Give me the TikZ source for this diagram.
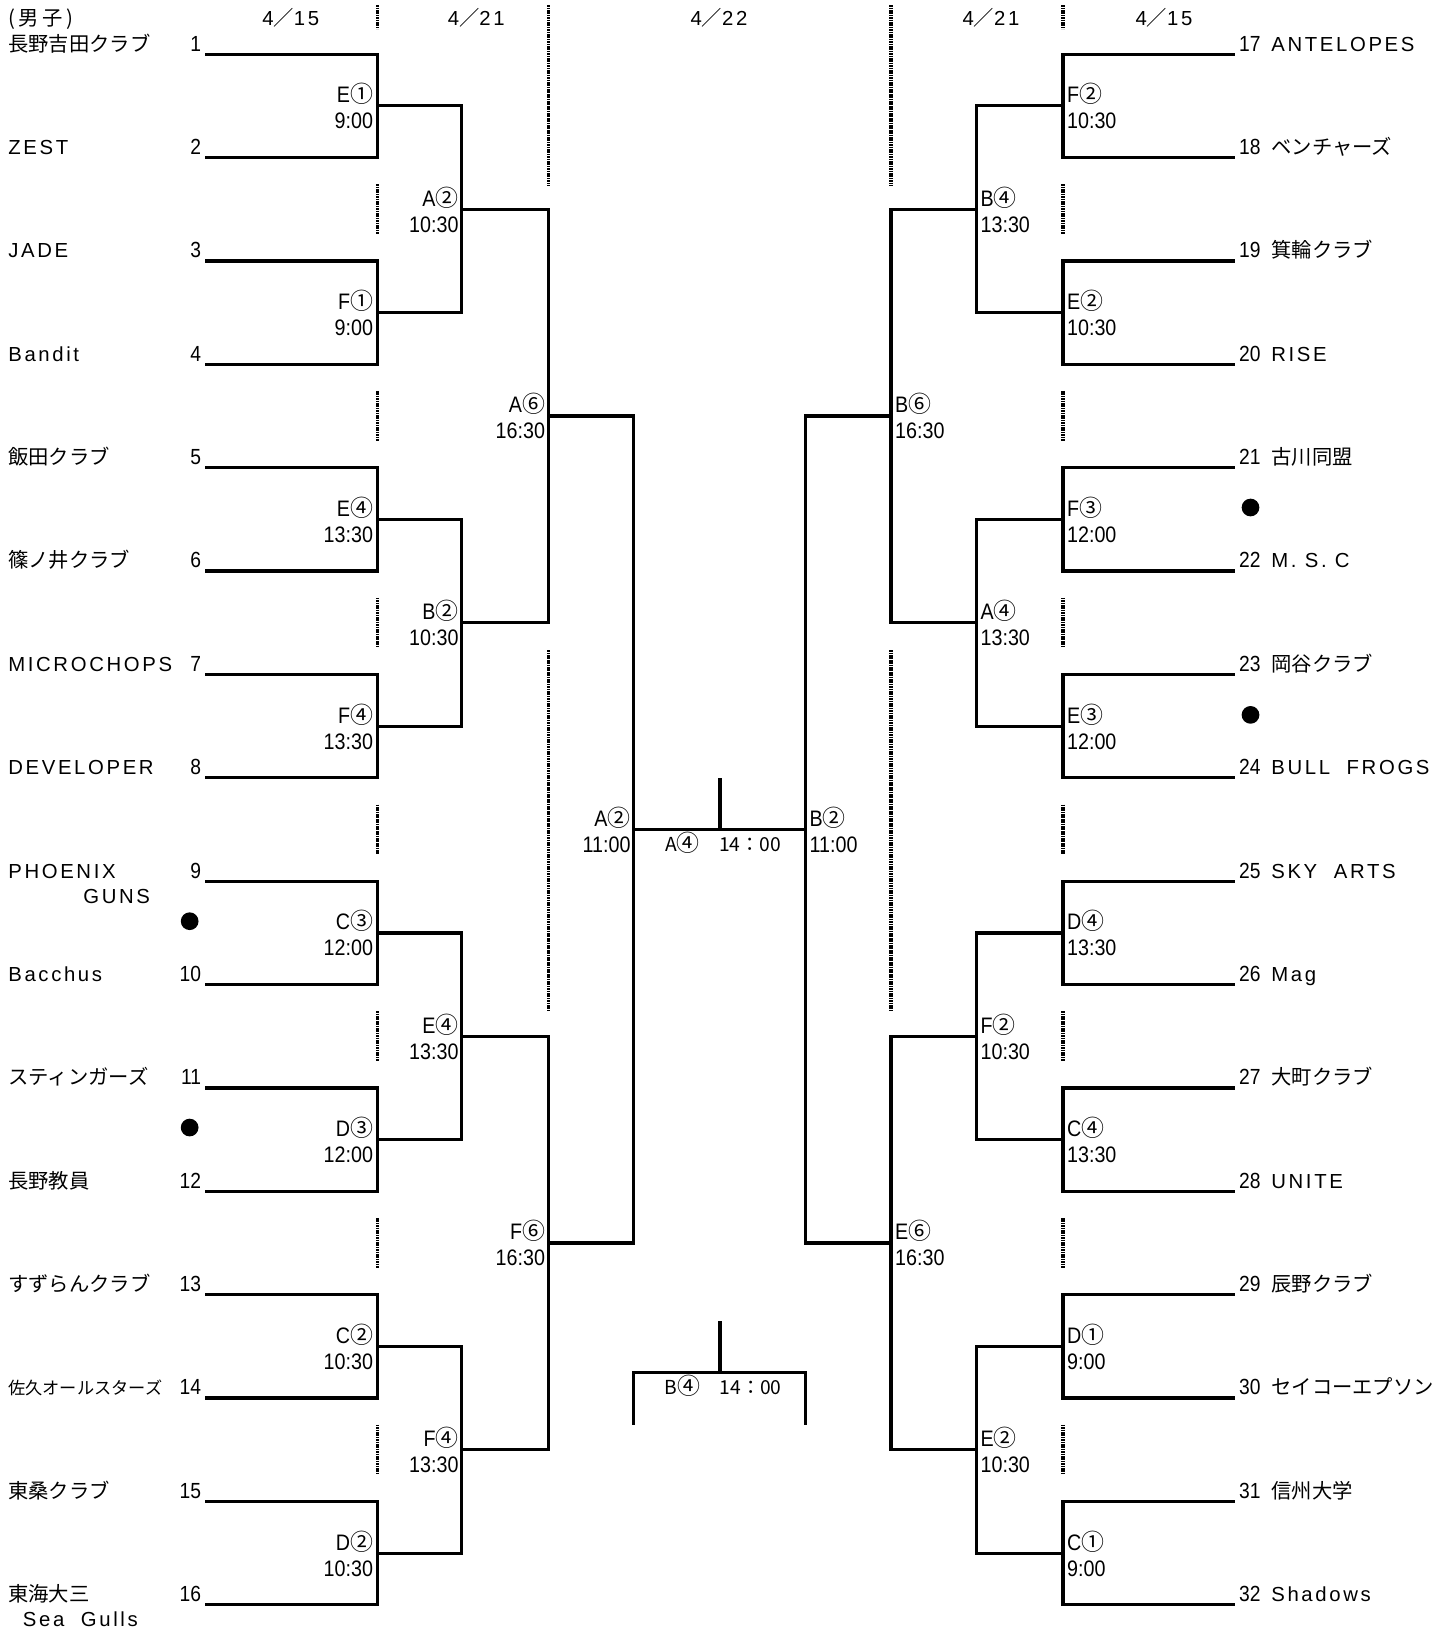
\documentclass[tikz,border=0pt]{standalone}
\usepackage{fontspec}
\setmainfont{Liberation Sans}
\newfontfamily\jp{Noto Sans CJK JP}
\newfontfamily\wl[LetterSpace=13]{Liberation Sans}
\newfontfamily\nar[FakeStretch=0.88]{Liberation Sans}
\newfontfamily\jpw[LetterSpace=17]{Noto Sans CJK JP}
\newcommand\cdig[1]{{\fontsize{22}{22}\selectfont\jp #1}}
\newcommand\slsh{{\jp ／}}
\begin{document}
\begin{tikzpicture}[x=1pt,y=-1pt,
  every node/.style={inner sep=0pt,outer sep=0pt},
  br/.style={line width=3.1pt,line join=miter},
  sep/.style={line width=3pt,dash pattern=on 1.6pt off 0.7pt},
  tnm/.style={font=\fontsize{19.5}{23}\selectfont\wl},
  tnum/.style={font=\fontsize{21}{23}\selectfont\nar},
  mlab/.style={font=\fontsize{21.5}{23}\selectfont\nar},
  hdr/.style={font=\fontsize{19.5}{23}\selectfont\wl},
  flab/.style={font=\fontsize{18.5}{22}\selectfont\jp,anchor=base},
  dot/.style={circle,fill=black,minimum size=17pt}]
\useasboundingbox (0,0) rectangle (1396,1568);
% ---------- coordinates ----------
\foreach \i in {1,...,16}{
  \pgfmathsetmacro\yy{52+(\i-1)*99.2}
  \coordinate (lt\i) at (197,\yy);
  \coordinate (rt\i) at (1185,\yy);
}
\foreach \m in {1,...,8}{
  \pgfmathsetmacro\yy{52+(2*\m-1.5)*99.2}
  \coordinate (la\m) at (362,\yy);
  \coordinate (ra\m) at (1020,\yy);
}
\foreach \k in {1,...,4}{
  \pgfmathsetmacro\yy{52+(4*\k-2.5)*99.2}
  \coordinate (lb\k) at (443,\yy);
  \coordinate (rb\k) at (937,\yy);
}
\foreach \j in {1,2}{
  \pgfmathsetmacro\yy{52+(8*\j-4.5)*99.2}
  \coordinate (lc\j) at (526,\yy);
  \coordinate (rc\j) at (855,\yy);
}
\coordinate (ld) at (608,796);
\coordinate (rd) at (773,796);
\coordinate (fm) at (691,796);
\coordinate (ft) at (691,747);
\coordinate (tl) at (608,1367);
\coordinate (tr) at (773,1367);
\coordinate (tm) at (691,1317);
\coordinate (tt) at (691,1268);
% ---------- separators ----------
\foreach \x in {362,1020}{
  \draw[sep] (\x,5) -- (\x,28);
  \foreach \g in {1,...,7}{
    \pgfmathsetmacro\yy{52+(2*\g-0.5)*99.2}
    \draw[sep] (\x,\yy-24) -- (\x,\yy+24);
  }
}
\foreach \x in {526,855}{
  \draw[sep] (\x,5) -- (\x,178);
  \draw[sep] (\x,624) -- (\x,971);
}
% ---------- bracket ----------
\foreach \m in {1,...,8}{
  \pgfmathtruncatemacro\a{2*\m-1}\pgfmathtruncatemacro\b{2*\m}
  \draw[br] (lt\a) -| (la\m) |- (lt\b);
  \draw[br] (rt\a) -| (ra\m) |- (rt\b);
}
\foreach \k in {1,...,4}{
  \pgfmathtruncatemacro\a{2*\k-1}\pgfmathtruncatemacro\b{2*\k}
  \draw[br] (la\a) -| (lb\k) |- (la\b);
  \draw[br] (ra\a) -| (rb\k) |- (ra\b);
}
\foreach \j in {1,2}{
  \pgfmathtruncatemacro\a{2*\j-1}\pgfmathtruncatemacro\b{2*\j}
  \draw[br] (lb\a) -| (lc\j) |- (lb\b);
  \draw[br] (rb\a) -| (rc\j) |- (rb\b);
}
\draw[br] (lc1) -| (ld) |- (lc2);
\draw[br] (rc1) -| (rd) |- (rc2);
\draw[br] (ld) -- (rd);
\draw[br] (ft) -- (fm);
\draw[br] (tl) |- (tm) -| (tr);
\draw[br] (tt) -- (tm);
% ---------- headers ----------
\node[hdr,anchor=base west,font=\fontsize{19.5}{23}\selectfont\jpw] (sex) at (8,24) {(男子)};
\node[hdr,anchor=base] (h1) at (279,24) {4\slsh 15};
\node[hdr,anchor=base] (h2) at (457,24) {4\slsh 21};
\node[hdr,anchor=base] (h3) at (690,24) {4\slsh 22};
\node[hdr,anchor=base] (h4) at (951,24) {4\slsh 21};
\node[hdr,anchor=base] (h5) at (1117,24) {4\slsh 15};
% ---------- match labels ----------
\foreach \m/\mL/\mC/\mT in {1/E/①/9:00,2/F/①/9:00,3/E/④/13:30,4/F/④/13:30,5/C/③/12:00,6/D/③/12:00,7/C/②/10:30,8/D/②/10:30}{
  \node[mlab,anchor=base east] (lam\m) at ([shift={(-4,-3)}]la\m) {\mL\cdig{\mC}};
  \node[mlab,anchor=base east] (lat\m) at ([shift={(-4,22)}]la\m) {\mT};
}
\foreach \m/\mL/\mC/\mT in {1/F/②/10:30,2/E/②/10:30,3/F/③/12:00,4/E/③/12:00,5/D/④/13:30,6/C/④/13:30,7/D/①/9:00,8/C/①/9:00}{
  \node[mlab,anchor=base west] (ram\m) at ([shift={(4,-3)}]ra\m) {\mL\cdig{\mC}};
  \node[mlab,anchor=base west] (rat\m) at ([shift={(4,22)}]ra\m) {\mT};
}
\foreach \m/\mL/\mC/\mT in {1/A/②/10:30,2/B/②/10:30,3/E/④/13:30,4/F/④/13:30}{
  \node[mlab,anchor=base east] (lbm\m) at ([shift={(-3,-3)}]lb\m) {\mL\cdig{\mC}};
  \node[mlab,anchor=base east] (lbt\m) at ([shift={(-3,22)}]lb\m) {\mT};
}
\foreach \m/\mL/\mC/\mT in {1/B/④/13:30,2/A/④/13:30,3/F/②/10:30,4/E/②/10:30}{
  \node[mlab,anchor=base west] (rbm\m) at ([shift={(4,-3)}]rb\m) {\mL\cdig{\mC}};
  \node[mlab,anchor=base west] (rbt\m) at ([shift={(4,22)}]rb\m) {\mT};
}
\foreach \m/\mL/\mC/\mT in {1/A/⑥/16:30,2/F/⑥/16:30}{
  \node[mlab,anchor=base east] (lcm\m) at ([shift={(-3,-3)}]lc\m) {\mL\cdig{\mC}};
  \node[mlab,anchor=base east] (lct\m) at ([shift={(-3,22)}]lc\m) {\mT};
}
\foreach \m/\mL/\mC/\mT in {1/B/⑥/16:30,2/E/⑥/16:30}{
  \node[mlab,anchor=base west] (rcm\m) at ([shift={(4,-3)}]rc\m) {\mL\cdig{\mC}};
  \node[mlab,anchor=base west] (rct\m) at ([shift={(4,22)}]rc\m) {\mT};
}
\node[mlab,anchor=base east] (ldm) at ([shift={(-3,-3)}]ld) {A\cdig{②}};
\node[mlab,anchor=base east] (ldt) at ([shift={(-3,22)}]ld) {11:00};
\node[mlab,anchor=base west] (rdm) at ([shift={(4,-3)}]rd) {B\cdig{②}};
\node[mlab,anchor=base west] (rdt) at ([shift={(4,22)}]rd) {11:00};
\node[flab] (fin) at (694,817) {A\cdig{④}　14：00};
\node[flab] (third) at (694,1338) {B\cdig{④}　14：00};
% ---------- teams ----------
\foreach \i/\nm in {1/{\jp 長野吉田クラブ},2/ZEST,3/JADE,4/Bandit,5/{\jp 飯田クラブ},6/{\jp 篠ノ井クラブ},7/MICROCHOPS,8/DEVELOPER,9/PHOENIX,10/Bacchus,11/{\jp スティンガーズ},12/{\jp 長野教員},13/{\jp すずらんクラブ},14/{\fontsize{16.5}{20}\selectfont\jp 佐久オールスターズ},15/{\jp 東桑クラブ},16/{\jp 東海大三}}{
  \pgfmathsetmacro\yy{52+(\i-1)*99.2-3}
  \node[tnum,anchor=base east] (ln\i) at ([shift={(-4,-3)}]lt\i) {\i};
  \node[tnm,anchor=base west] (lnm\i) at (8,\yy) {\nm};
}
\node[tnm,anchor=base west] (lnm9b) at (80,867) {GUNS};
\node[tnm,anchor=base west] (lnm16b) at (22,1561) {Sea\ \ Gulls};
\foreach \i/\nm in {1/ANTELOPES,2/{\jp ベンチャーズ},3/{\jp 箕輪クラブ},4/RISE,5/{\jp 古川同盟},6/{M. S. C},7/{\jp 岡谷クラブ},8/{BULL\ \ FROGS},9/{SKY\ \ ARTS},10/Mag,11/{\jp 大町クラブ},12/UNITE,13/{\jp 辰野クラブ},14/{\jp セイコーエプソン},15/{\jp 信州大学},16/Shadows}{
  \pgfmathtruncatemacro\nn{\i+16}
  \pgfmathsetmacro\yy{52+(\i-1)*99.2-3}
  \node[tnum,anchor=base west] (rn\i) at ([shift={(4,-3)}]rt\i) {\nn};
  \node[tnm,anchor=base west] (rnm\i) at (1220,\yy) {\nm};
}
% ---------- dots ----------
\node[dot] (d1) at (182,884) {};
\node[dot] (d2) at (182,1082) {};
\node[dot] (d3) at (1200,487) {};
\node[dot] (d4) at (1200,686) {};
\end{tikzpicture}
\end{document}
